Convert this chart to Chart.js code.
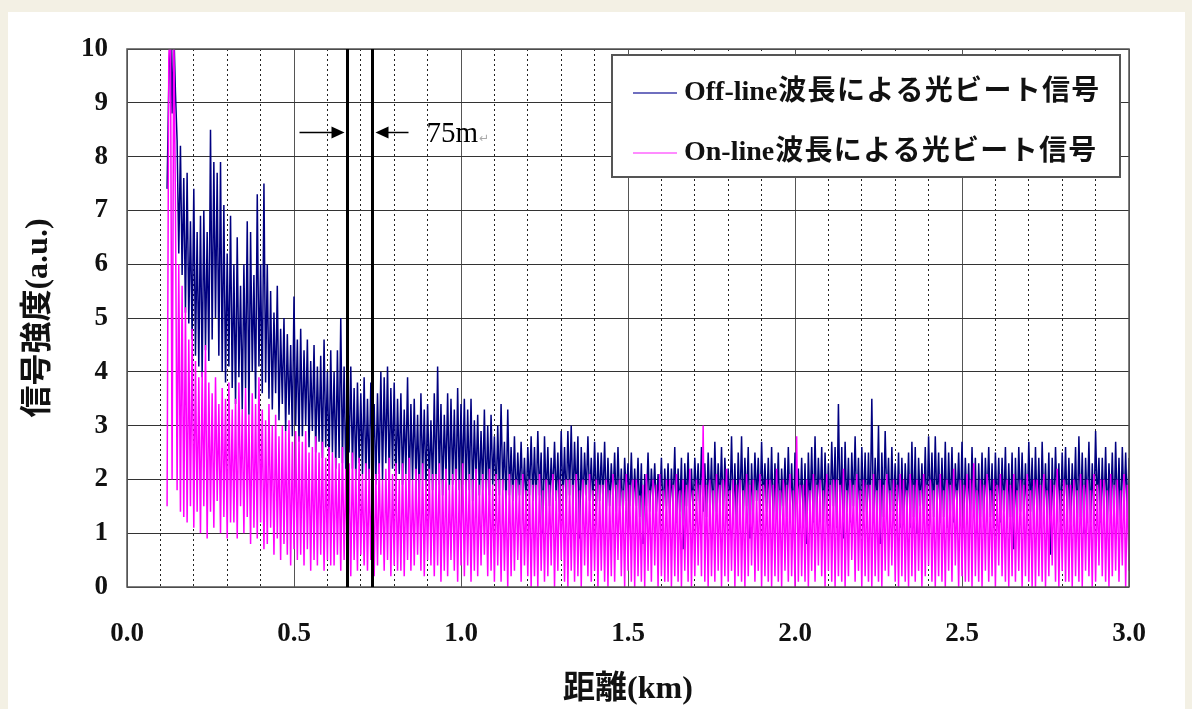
<!DOCTYPE html>
<html>
<head>
<meta charset="utf-8">
<script src="https://cdn.jsdelivr.net/npm/chart.js@4.4.1/dist/chart.umd.min.js"></script>
<style>
html, body { margin: 0; padding: 0; background: #f3f0e4; }
#panel { position: absolute; left: 8px; top: 12px; width: 1177px; height: 697px; background: #fff; }
#wrap { position: absolute; left: 0; top: 0; width: 1192px; height: 709px; }
</style>
</head>
<body>
<div id="panel"></div>
<div id="wrap"><canvas id="c" width="1192" height="709"></canvas></div>
<script>
// sample positions (km): first sample and spacing
const startKm = 0.12;
const stepKm = 0.005;

// Off-line wavelength beat signal (a.u.), one row per 0.1 km
const offLine = [
  7.4, 9.3, 10.6, 8.8, 10.4, 9.2, 8.3, 6.2, 8.2, 5.8, 7.6, 5.1, 7.7, 4.9, 6.8, 4.6, 7.4, 4.3, 6.6, 4.1,
  6.9, 3.9, 7.0, 4.4, 6.6, 4.2, 8.5, 4.6, 7.9, 5.0, 7.7, 4.3, 7.9, 4.0, 7.1, 3.8, 6.2, 4.1, 6.9, 3.7,
  6.0, 3.4, 6.5, 3.9, 5.6, 3.3, 6.0, 3.7, 6.8, 3.2, 6.6, 4.0, 5.8, 3.5, 7.3, 4.1, 6.0, 3.6, 7.5, 3.8,
  6.0, 3.5, 5.5, 3.3, 5.1, 3.6, 5.6, 3.1, 4.8, 3.4, 5.0, 2.9, 4.7, 3.2, 4.5, 2.8, 5.4, 3.0, 4.6, 2.7,
  4.8, 2.8, 4.4, 3.0, 4.6, 2.6, 4.2, 2.9, 4.5, 2.5, 4.1, 2.7, 4.3, 2.4, 4.6, 2.6, 4.0, 2.3, 4.4, 2.5,
  4.0, 2.2, 4.4, 2.4, 5.0, 2.3, 4.1, 2.1, 3.9, 2.5, 4.1, 2.2, 3.7, 2.0, 3.8, 2.3, 3.6, 2.1, 3.9, 2.0,
  3.5, 2.0, 3.8, 2.2, 3.4, 1.9, 3.6, 2.1, 4.0, 2.0, 3.9, 2.3, 4.1, 2.0, 3.7, 2.2, 3.8, 1.9, 3.5, 2.1,
  3.6, 1.9, 3.3, 2.1, 3.9, 1.8, 3.4, 2.0, 3.5, 1.9, 3.2, 1.7, 3.6, 2.0, 3.3, 1.8, 3.4, 1.9, 3.1, 1.8,
  3.6, 1.8, 4.1, 1.9, 3.4, 1.7, 3.2, 2.0, 3.6, 1.8, 3.5, 1.9, 3.3, 1.7, 3.7, 1.8, 3.4, 1.9, 3.5, 1.7,
  3.3, 1.8, 3.5, 1.6, 3.1, 1.9, 3.2, 1.7, 2.9, 1.8, 3.3, 1.6, 3.0, 1.7, 3.2, 1.9, 2.8, 1.6, 3.0, 1.7,
  3.4, 1.8, 2.7, 1.5, 3.3, 1.7, 2.6, 1.6, 2.8, 1.5, 2.5, 1.7, 2.7, 1.6, 2.4, 1.5, 2.6, 1.7, 2.8, 1.6,
  2.6, 1.5, 2.9, 1.7, 2.5, 1.0, 2.8, 1.6, 2.6, 1.5, 2.4, 1.7, 2.7, 1.6, 2.5, 1.4, 2.9, 1.6, 2.6, 1.5,
  2.9, 1.7, 3.0, 1.5, 2.7, 1.6, 2.8, 0.9, 2.6, 1.5, 2.5, 1.7, 2.8, 1.6, 2.4, 1.5, 2.7, 1.4, 2.5, 1.6,
  2.5, 1.6, 2.7, 1.4, 2.4, 1.5, 2.3, 1.6, 2.5, 1.4, 2.6, 1.5, 2.2, 1.3, 2.4, 1.6, 2.3, 1.5, 2.5, 1.4,
  2.2, 1.5, 2.4, 1.3, 2.3, 0.8, 2.1, 1.5, 2.5, 1.4, 2.2, 1.6, 2.3, 1.4, 2.1, 1.5, 2.4, 1.3, 2.2, 1.5,
  2.3, 1.3, 2.2, 1.5, 2.6, 1.2, 2.2, 1.4, 2.4, 0.7, 2.3, 1.5, 2.5, 1.3, 2.2, 1.4, 2.4, 1.6, 2.3, 1.4,
  2.6, 1.4, 2.3, 1.3, 2.5, 1.5, 2.4, 1.2, 2.7, 1.4, 2.3, 1.5, 2.6, 1.3, 2.4, 1.6, 2.2, 1.4, 2.8, 1.3,
  2.3, 1.1, 2.5, 1.4, 2.8, 1.3, 2.4, 1.5, 2.6, 0.9, 2.3, 1.4, 2.5, 1.6, 2.4, 1.3, 2.7, 1.5, 2.3, 1.4,
  2.4, 1.3, 2.6, 1.2, 2.3, 1.4, 2.5, 1.1, 2.2, 1.5, 2.4, 1.3, 2.6, 1.4, 2.3, 1.2, 2.5, 1.6, 2.2, 1.4,
  2.4, 1.2, 2.3, 0.8, 2.5, 1.4, 2.6, 1.2, 2.8, 1.3, 2.4, 1.5, 2.6, 1.2, 2.5, 1.4, 2.3, 1.3, 2.7, 1.5,
  2.6, 1.1, 3.4, 1.3, 2.6, 0.9, 2.7, 1.4, 2.4, 1.2, 2.5, 1.5, 2.8, 1.3, 2.4, 1.1, 2.6, 1.4, 2.5, 1.2,
  2.5, 1.3, 3.5, 1.2, 2.4, 1.4, 3.0, 0.8, 2.5, 1.3, 2.9, 1.5, 2.4, 1.2, 2.6, 1.4, 2.3, 1.3, 2.5, 1.1,
  2.4, 1.2, 2.3, 1.4, 2.5, 1.1, 2.7, 1.3, 2.6, 1.0, 2.4, 1.5, 2.3, 1.3, 2.6, 1.2, 2.8, 1.4, 2.5, 1.3,
  2.8, 1.4, 2.5, 1.2, 2.4, 1.3, 2.7, 1.1, 2.5, 1.4, 2.6, 1.2, 2.3, 1.5, 2.5, 1.3, 2.7, 1.2, 2.4, 1.4,
  2.3, 1.2, 2.6, 1.4, 2.4, 1.0, 2.3, 1.3, 2.5, 1.2, 2.4, 1.5, 2.6, 1.3, 2.3, 1.1, 2.5, 1.4, 2.4, 1.2,
  2.4, 1.4, 2.6, 1.1, 2.3, 1.3, 2.5, 0.7, 2.4, 1.2, 2.6, 1.4, 2.5, 1.3, 2.3, 1.2, 2.7, 1.4, 2.4, 1.1,
  2.6, 1.3, 2.4, 1.1, 2.7, 1.4, 2.3, 1.2, 2.5, 0.6, 2.4, 1.3, 2.6, 1.5, 2.3, 1.2, 2.5, 1.4, 2.6, 1.3,
  2.4, 1.2, 2.3, 1.4, 2.6, 1.1, 2.8, 1.3, 2.5, 1.0, 2.4, 1.4, 2.7, 1.2, 2.3, 1.3, 2.9, 1.5, 2.4, 1.2,
  2.4, 1.3, 2.6, 1.2, 2.3, 1.4, 2.5, 1.2, 2.7, 1.3, 2.4, 1.1, 2.6, 1.4, 2.5, 1.3, 2.4
];

// On-line wavelength beat signal (a.u.)
const onLine = [
  1.5, 9.8, 10.6, 2.0, 10.4, 7.2, 1.8, 6.0, 1.4, 5.6, 1.3, 5.2, 1.2, 4.6, 1.5, 4.8, 1.1, 4.2, 1.4, 3.9,
  1.0, 4.0, 1.5, 4.5, 0.9, 3.8, 1.4, 3.6, 1.1, 3.9, 1.6, 3.4, 1.0, 3.7, 1.3, 3.5, 0.9, 3.8, 1.2, 3.3,
  1.2, 3.5, 0.9, 3.8, 1.5, 3.3, 1.0, 3.7, 1.3, 3.2, 0.8, 3.6, 1.1, 3.4, 0.9, 3.9, 1.2, 3.3, 0.7, 3.1,
  0.8, 3.4, 1.1, 3.0, 0.6, 3.2, 0.9, 2.8, 0.5, 3.0, 0.8, 2.9, 0.6, 3.1, 0.4, 2.7, 0.7, 2.9, 0.5, 2.8,
  0.6, 2.7, 0.4, 2.9, 0.7, 2.5, 0.3, 2.6, 0.5, 2.8, 0.4, 2.5, 0.6, 2.7, 0.3, 2.4, 0.5, 2.6, 0.4, 2.5,
  0.4, 2.4, 0.6, 2.3, 0.3, 2.6, 0.5, 2.2, 0.4, 2.3, 0.2, 2.5, 0.5, 2.2, 0.3, 2.4, 0.6, 2.1, 0.4, 2.3,
  0.3, 2.2, 0.5, 2.4, 0.2, 2.1, 0.4, 2.3, 0.6, 2.0, 0.3, 2.2, 0.5, 2.4, 0.2, 2.1, 0.4, 2.3, 0.3, 2.0,
  0.3, 2.3, 0.2, 2.1, 0.5, 2.4, 0.3, 2.0, 0.4, 2.2, 0.6, 2.1, 0.3, 2.3, 0.2, 2.0, 0.5, 2.2, 0.4, 2.1,
  0.2, 2.1, 0.4, 2.3, 0.1, 2.0, 0.3, 2.2, 0.2, 1.9, 0.5, 2.1, 0.3, 2.2, 0.1, 2.0, 0.4, 2.3, 0.2, 2.0,
  0.4, 2.1, 0.1, 2.0, 0.3, 2.2, 0.2, 1.9, 0.4, 2.1, 0.6, 2.0, 0.2, 2.2, 0.3, 1.9, 0.1, 2.1, 0.4, 2.0,
  0.1, 2.0, 0.3, 1.8, 0.0, 2.1, 0.2, 1.9, 0.3, 2.0, 0.5, 1.9, 0.1, 2.1, 0.4, 1.8, 0.2, 2.0, 0.0, 1.9,
  0.2, 1.9, 0.0, 2.1, 0.3, 1.8, 0.1, 2.0, 0.2, 1.9, 0.4, 2.1, 0.0, 1.8, 0.3, 2.0, 0.5, 1.9, 0.1, 2.0,
  0.0, 2.0, 0.3, 1.9, 0.1, 2.1, 0.2, 1.8, 0.0, 2.0, 0.4, 1.9, 0.2, 2.1, 0.1, 1.8, 0.3, 2.0, 0.0, 1.9,
  0.3, 1.9, 0.1, 2.0, 0.0, 1.8, 0.2, 2.1, 0.1, 1.9, 0.5, 2.0, 0.2, 1.8, 0.0, 2.1, 0.3, 1.9, 0.1, 2.0,
  0.0, 2.0, 0.2, 1.7, 0.1, 1.9, 0.0, 2.1, 0.3, 1.8, 0.1, 2.0, 0.4, 1.9, 0.0, 2.1, 0.2, 1.8, 0.1, 2.0,
  0.1, 2.0, 0.0, 1.9, 0.2, 2.1, 0.1, 1.8, 0.0, 2.0, 0.3, 1.9, 0.1, 2.2, 0.0, 1.8, 0.2, 2.0, 0.4, 1.9,
  0.2, 3.0, 0.1, 1.9, 0.0, 2.0, 0.2, 1.8, 0.1, 2.1, 0.3, 1.9, 0.0, 2.0, 0.2, 2.2, 0.1, 1.8, 0.3, 2.0,
  0.0, 1.9, 0.2, 2.0, 0.1, 1.8, 0.0, 2.1, 0.2, 1.9, 0.4, 2.0, 0.1, 1.8, 0.3, 2.1, 0.0, 1.9, 0.2, 2.0,
  0.1, 2.0, 0.0, 1.9, 0.2, 2.2, 0.1, 1.8, 0.0, 2.0, 0.3, 1.9, 0.1, 2.1, 0.2, 1.8, 0.0, 2.8, 0.1, 1.9,
  0.2, 1.9, 0.1, 2.0, 0.0, 1.8, 0.3, 2.1, 0.1, 1.9, 0.4, 2.0, 0.2, 1.8, 0.0, 2.1, 0.3, 1.9, 0.1, 2.0,
  0.0, 2.0, 0.2, 1.9, 0.1, 2.2, 0.0, 1.8, 0.2, 2.0, 0.5, 1.9, 0.1, 2.1, 0.3, 1.8, 0.0, 2.0, 0.2, 1.9,
  0.1, 1.9, 0.0, 2.1, 0.2, 1.8, 0.1, 2.0, 0.0, 1.9, 0.3, 2.1, 0.2, 1.8, 0.4, 2.0, 0.1, 1.9, 0.0, 2.1,
  0.2, 2.0, 0.1, 1.8, 0.0, 2.1, 0.2, 1.9, 0.1, 2.0, 0.3, 1.8, 0.0, 2.1, 0.2, 1.9, 0.4, 2.0, 0.1, 1.8,
  0.0, 1.9, 0.2, 2.1, 0.1, 1.8, 0.0, 2.0, 0.3, 1.9, 0.1, 2.2, 0.4, 1.8, 0.0, 2.0, 0.2, 1.9, 0.1, 2.1,
  0.1, 2.0, 0.0, 2.3, 0.2, 1.8, 0.1, 2.0, 0.0, 1.9, 0.3, 2.1, 0.1, 1.8, 0.2, 2.0, 0.0, 1.9, 0.4, 2.1,
  0.2, 1.8, 0.1, 2.0, 0.0, 1.9, 0.2, 2.1, 0.1, 1.8, 0.3, 2.0, 0.0, 1.9, 0.2, 2.1, 0.1, 1.8, 0.0, 2.0,
  0.0, 2.0, 0.2, 1.9, 0.1, 2.1, 0.0, 1.8, 0.2, 2.0, 0.4, 1.9, 0.1, 2.2, 0.0, 1.8, 0.3, 2.0, 0.1, 1.9,
  0.1, 1.9, 0.0, 2.0, 0.2, 1.8, 0.1, 2.1, 0.0, 1.9, 0.3, 2.0, 0.2, 1.8, 0.0, 2.1, 0.1, 1.9, 0.4, 2.0,
  0.2, 2.0, 0.1, 1.8, 0.0, 2.1, 0.2, 1.9, 0.3, 2.0, 0.1, 1.8, 0.4, 2.1, 0.0, 1.9, 0.3
];

const seriesNames = ["Off-line波長による光ビート信号", "On-line波長による光ビート信号"];
const markerKm = [0.659, 0.733];   // the two marker lines, 75 m apart
const markerText = "75m";

const fontFam = "'Liberation Serif', 'Noto Sans CJK JP', serif";
const toPoints = vals => vals.map((v, i) => ({ x: +(startKm + i * stepKm).toFixed(3), y: v }));

const overlay = {
  id: "overlay",
  afterDatasetsDraw(chart) {
    const { ctx, chartArea: a, scales: { x, y } } = chart;
    ctx.save();
    // frame
    ctx.strokeStyle = "#555";
    ctx.lineWidth = 1.5;
    ctx.strokeRect(a.left, a.top, a.width, a.height);

    // marker lines
    ctx.strokeStyle = "#000";
    ctx.lineWidth = 3;
    const mx = markerKm.map(v => Math.round(x.getPixelForValue(v)) + 0.5);
    mx.forEach(px => {
      ctx.beginPath(); ctx.moveTo(px, a.top); ctx.lineTo(px, a.bottom); ctx.stroke();
    });

    // arrows
    const ay = Math.round(y.getPixelForValue(8.46)) + 0.5;
    ctx.lineWidth = 1.5;
    ctx.fillStyle = "#000";
    const arrow = (x0, x1) => {
      const dir = Math.sign(x1 - x0);
      ctx.beginPath(); ctx.moveTo(x0, ay); ctx.lineTo(x1 - dir * 10, ay); ctx.stroke();
      ctx.beginPath(); ctx.moveTo(x1, ay); ctx.lineTo(x1 - dir * 13, ay - 6); ctx.lineTo(x1 - dir * 13, ay + 6); ctx.closePath(); ctx.fill();
    };
    arrow(mx[0] - 48, mx[0] - 3);
    arrow(mx[1] + 36, mx[1] + 3);
    ctx.font = "29px " + fontFam;
    ctx.textBaseline = "middle";
    ctx.fillText(markerText, mx[1] + 54, ay + 2);
    const tw = ctx.measureText(markerText).width;
    ctx.fillStyle = "#aaa";
    ctx.font = "12px 'DejaVu Sans'";
    ctx.fillText("↵", mx[1] + 54 + tw + 1, ay + 6);

    // legend box
    const bx = a.right - 517, by = a.top + 6, bw = 508, bh = 122;
    ctx.fillStyle = "#fff";
    ctx.fillRect(bx, by, bw, bh);
    ctx.strokeStyle = "#555";
    ctx.lineWidth = 2;
    ctx.strokeRect(bx, by, bw, bh);
    const swatch = ["#6f6fbf", "#ff8cff"];
    ctx.textBaseline = "middle";
    seriesNames.forEach((name, i) => {
      const ly = by + 38 + i * 60;
      ctx.strokeStyle = swatch[i];
      ctx.lineWidth = 2;
      ctx.beginPath(); ctx.moveTo(bx + 21, ly); ctx.lineTo(bx + 65, ly); ctx.stroke();
      ctx.fillStyle = "#111";
      const latin = name.match(/^[\x00-\x7f]+/)[0];
      const rest = name.slice(latin.length);
      ctx.font = "bold 28px " + fontFam;
      ctx.letterSpacing = "0px";
      ctx.fillText(latin, bx + 72, ly);
      const lw = ctx.measureText(latin).width;
      ctx.letterSpacing = "1.3px";
      ctx.fillText(rest, bx + 72 + lw + 1, ly);
      ctx.letterSpacing = "0px";
    });
    ctx.restore();
  }
};

new Chart(document.getElementById("c").getContext("2d"), {
  type: "line",
  data: {
    datasets: [
      { label: seriesNames[0], data: toPoints(offLine), borderColor: "#000080", borderWidth: 1.5, order: 1 },
      { label: seriesNames[1], data: toPoints(onLine), borderColor: "#ff00ff", borderWidth: 1.5, order: 0 }
    ]
  },
  options: {
    responsive: false,
    animation: false,
    layout: { padding: { left: 20, top: 49, right: 63, bottom: 0 } },
    elements: { point: { radius: 0 }, line: { tension: 0 } },
    plugins: { legend: { display: false }, tooltip: { enabled: false } },
    scales: {
      x: {
        type: "linear", min: 0, max: 3,
        afterFit: s => { s.height = 122; },
        ticks: { stepSize: 0.5, padding: 31, color: "#111", font: { family: fontFam, size: 27, weight: "bold" }, callback: v => v.toFixed(1) },
        grid: { color: "#555", lineWidth: 1, drawTicks: false },
        border: { display: false },
        title: { display: true, text: "距離(km)", color: "#111", padding: 0, font: { family: fontFam, size: 32, weight: "bold" } }
      },
      xMinor: {
        type: "linear", min: 0, max: 3, position: "bottom",
        afterFit: s => { s.height = 0; },
        ticks: { stepSize: 0.1, display: false },
        grid: {
          drawTicks: false,
          color: c => (Math.round(c.tick.value * 10) % 5 === 0 ? "rgba(0,0,0,0)" : "#222")
        },
        border: { display: false, dash: [2, 3] }
      },
      y: {
        min: 0, max: 10,
        afterFit: s => { s.width = 107; },
        ticks: { stepSize: 1, padding: 19, color: "#111", font: { family: fontFam, size: 27, weight: "bold" } },
        grid: { color: "#333", lineWidth: 1, drawTicks: false },
        border: { display: false },
        title: { display: true, text: "信号強度(a.u.)", color: "#111", padding: 0, font: { family: fontFam, size: 32, weight: "bold" } }
      }
    }
  },
  plugins: [overlay]
});
</script>
</body>
</html>
